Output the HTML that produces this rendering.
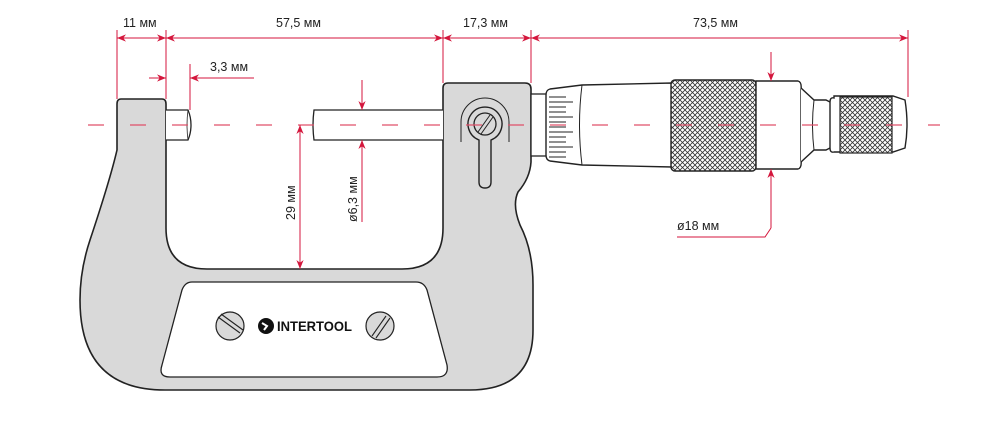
<!DOCTYPE html>
<html><head><meta charset="utf-8"><style>
html,body{margin:0;padding:0;background:#fff}
svg{display:block}
text{font-family:"Liberation Sans",sans-serif;font-size:12.5px;fill:#222}
</style></head><body>
<svg width="990" height="425" viewBox="0 0 990 425" xmlns="http://www.w3.org/2000/svg">
<defs>
<pattern id="kn" width="5" height="5" patternUnits="userSpaceOnUse">
<rect width="5" height="5" fill="#fff"/>
<path d="M0 0L5 5M5 0L0 5" stroke="#333" stroke-width="0.8"/>
</pattern>
<marker id="ar" viewBox="0 0 10 10" refX="10" refY="5" markerWidth="9" markerHeight="9" orient="auto-start-reverse" markerUnits="userSpaceOnUse">
<path d="M0 1L10 5L0 9L3 5z" fill="#d4163c"/>
</marker>
</defs>

<path d="M121 99 H162 Q166 99 166 104 V228 Q166 269 207 269 H402 Q443 269 443 228 V88 Q443 83 448 83 H525 Q531 83 531 89 V162 Q530 178 518 192 Q512 205 520 225 Q533 250 533 285 V330 Q533 390 470 390 H165 Q80 390 80 300 Q80 270 90 240 Q110 180 117 150 V104 Q117 99 121 99Z" fill="#d9d9d9" stroke="#222" stroke-width="1.6"/>
<path d="M192 282 H416 Q424 282 427 290 L447 365 Q449 377 437 377 H170 Q158 377 162 365 L182 290 Q185 282 192 282Z" fill="#fff" stroke="#222" stroke-width="1.3"/>
<g stroke="#222" stroke-width="1.2" fill="#d9d9d9">
<circle cx="230" cy="326" r="14"/><circle cx="380" cy="326" r="14"/>
</g>
<path d="M218 317L240 333M221 314L243 330" stroke="#222" stroke-width="1.1"/>
<path d="M372 336L386 316M376 338L390 318" stroke="#222" stroke-width="1.1"/>
<circle cx="266" cy="326" r="8" fill="#111"/>
<path d="M262 323l5 3l-3 4" stroke="#fff" stroke-width="2" fill="none"/>
<text x="277" y="331" textLength="75" lengthAdjust="spacingAndGlyphs" style="font-size:14px;font-weight:bold;fill:#111">INTERTOOL</text>

<path d="M166 110 H188 Q191 117 191 125 Q191 133 188 140 H166" fill="#fff" stroke="#222" stroke-width="1.3"/>
<path d="M188 110 Q186 125 188 140" fill="none" stroke="#222" stroke-width="0.8"/>
<path d="M443 110 H314 Q312 125 314 140 H443" fill="#fff" stroke="#222" stroke-width="1.3"/>

<path d="M461 142 V122 A24 24 0 0 1 509 122 V142" fill="none" stroke="#222" stroke-width="1"/>
<path d="M479 140 A17 17 0 1 1 491 140 L491 182 Q491 188 485 188 Q479 188 479 182Z" fill="#d9d9d9" stroke="#222" stroke-width="1.4"/>
<circle cx="485" cy="124" r="11" fill="#d9d9d9" stroke="#222" stroke-width="1.3"/>
<path d="M478 132L490 115M481 134L493 117" stroke="#222" stroke-width="1"/>

<rect x="531" y="94" width="16" height="62" fill="#fff" stroke="#222" stroke-width="1.3"/>
<path d="M550 89 L582 85 L672 83 V167 L582 165 L550 161 Q546 160 546 155 V95 Q546 90 550 89Z" fill="#fff" stroke="#222" stroke-width="1.4"/>
<path d="M582 85 Q577 125 582 165" fill="none" stroke="#222" stroke-width="1"/>
<g stroke="#222" stroke-width="1">
<path d="M549 97H566M549 102H573M549 107H566M549 112H566M549 117H573M549 122H566M549 127H566M549 132H573M549 137H566M549 142H566M549 147H573M549 152H566M549 157H566"/>
</g>
<rect x="671" y="80" width="85" height="91" rx="4" fill="url(#kn)" stroke="#222" stroke-width="1.4"/>
<path d="M756 81 H798 Q802 82 801 90 V160 Q802 168 798 169 H756Z" fill="#fff" stroke="#222" stroke-width="1.4"/>
<path d="M801 88 L814 100 H826 L832 103 V147 L826 150 H814 L801 162" fill="#fff" stroke="#222" stroke-width="1.4"/>
<path d="M814 100 Q811 125 814 150" fill="none" stroke="#222" stroke-width="1"/>
<path d="M834 98 Q830 97 830 102 V148 Q830 153 834 152 H893 L905 148 Q909 125 905 100 L893 96 H834Z" fill="#fff" stroke="#222" stroke-width="1.4"/>
<rect x="840" y="97" width="52" height="56" fill="url(#kn)" stroke="#222" stroke-width="1.2"/>

<line x1="88" y1="125" x2="940" y2="125" stroke="#e0506a" stroke-width="1.3" stroke-dasharray="16 26"/>

<g stroke="#d4163c" stroke-width="1" fill="none">
<path d="M117 30V99M166 30V99M443 30V83M531 30V83M908 30V97"/>
<line x1="117" y1="38" x2="166" y2="38" marker-start="url(#ar)" marker-end="url(#ar)"/>
<line x1="166" y1="38" x2="443" y2="38" marker-start="url(#ar)" marker-end="url(#ar)"/>
<line x1="443" y1="38" x2="531" y2="38" marker-start="url(#ar)" marker-end="url(#ar)"/>
<line x1="531" y1="38" x2="908" y2="38" marker-start="url(#ar)" marker-end="url(#ar)"/>
<path d="M190 64V110"/>
<line x1="149" y1="78" x2="166" y2="78" marker-end="url(#ar)"/>
<line x1="254" y1="78" x2="190" y2="78" marker-end="url(#ar)"/>
<line x1="362" y1="80" x2="362" y2="110" marker-end="url(#ar)"/>
<line x1="362" y1="222" x2="362" y2="140" marker-end="url(#ar)"/>
<line x1="300" y1="200" x2="300" y2="125" marker-end="url(#ar)"/>
<line x1="300" y1="200" x2="300" y2="269" marker-end="url(#ar)"/>
<line x1="771" y1="52" x2="771" y2="81" marker-end="url(#ar)"/>
<line x1="771" y1="228" x2="771" y2="169" marker-end="url(#ar)"/>
<path d="M771 228L765 237H677"/>
</g>
<text x="123" y="27">11 мм</text>
<text x="276" y="27">57,5 мм</text>
<text x="463" y="27">17,3 мм</text>
<text x="693" y="27">73,5 мм</text>
<text x="210" y="71">3,3 мм</text>
<text x="677" y="230">ø18 мм</text>
<text transform="translate(295,220) rotate(-90)">29 мм</text>
<text transform="translate(357,222) rotate(-90)">ø6,3 мм</text>
</svg>
</body></html>
